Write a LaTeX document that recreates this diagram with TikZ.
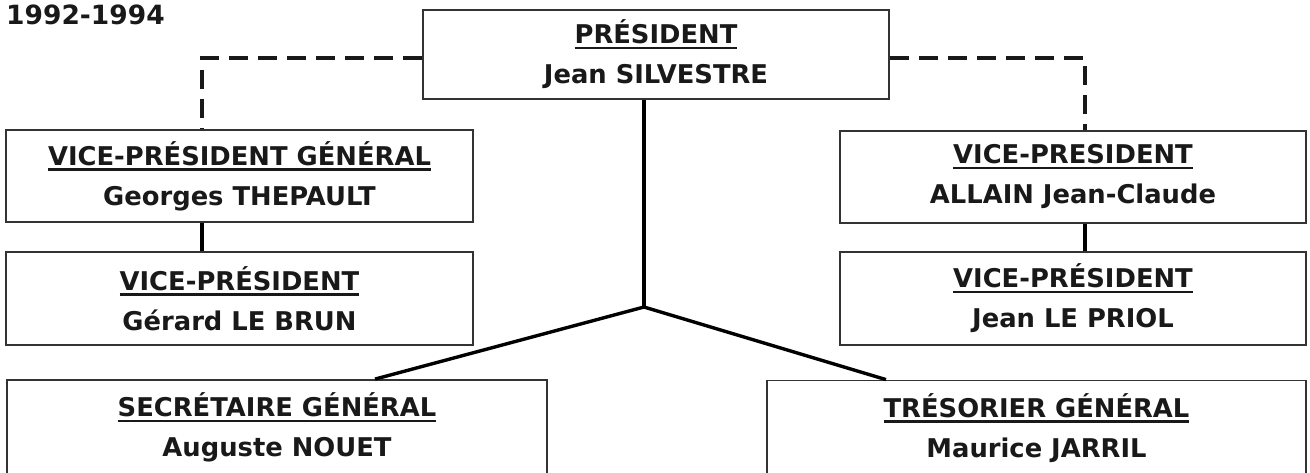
\documentclass[tikz,border=0pt]{standalone}
\usepackage{fontspec}
\setmainfont{DejaVu Sans}
\usepackage{tikz}

\newcommand{\souligne}[1]{\leavevmode\vtop{\hbox{#1}\kern2.5pt\hrule height 2.6pt}}

\begin{document}
\begin{tikzpicture}[x=1pt,y=-1pt,shorten >=0pt,-]
            \tikzstyle{poste}=[rectangle,draw=black!80,line width=1.8pt,fill=white,minimum width=467pt,minimum height=92pt,inner sep=0pt,align=center,text=black!90,font=\bfseries\fontsize{25.8}{40}\selectfont]
            \tikzstyle{lien}=[line width=3.4pt,black]
            \tikzstyle{pointille}=[line width=3.8pt,black!90,dash pattern=on 19pt off 10pt]

                \useasboundingbox (0,0) rectangle (1310,472);

                \node[anchor=north west,inner sep=0pt,text=black!90,font=\bfseries\fontsize{26.5}{30}\selectfont] (annee) at (6,5) {1992-1994};

                \node[poste,minimum width=466pt,minimum height=89pt] (P) at (656,54.5) {\souligne{PRÉSIDENT}\\Jean SILVESTRE};
                \node[poste] (VG) at (239.5,176) {\souligne{VICE-PRÉSIDENT GÉNÉRAL}\\Georges THEPAULT};
                \node[poste,minimum height=93pt] (VB) at (239.5,298.5) {\souligne{VICE-PRÉSIDENT}\\Gérard LE BRUN};
                \node[poste,minimum width=466pt] (VA) at (1073,177) {\souligne{VICE-PRESIDENT}\\ALLAIN Jean-Claude};
                \node[poste,minimum width=466pt,minimum height=93pt] (VL) at (1073,298.5) {\souligne{VICE-PRÉSIDENT}\\Jean LE PRIOL};
                \node[poste,minimum width=540pt,minimum height=95pt] (SG) at (277,427.5) {\souligne{SECRÉTAIRE GÉNÉRAL}\\Auguste NOUET};
                \node[poste,minimum width=539pt,minimum height=95pt] (TG) at (1036.5,428) {\souligne{TRÉSORIER GÉNÉRAL}\\Maurice JARRIL};

                \coordinate (G) at (202,58);
                \coordinate (D) at (1085,58);
                \coordinate (J) at (644,307);
                \coordinate (JS) at (375,380);
                \coordinate (JT) at (886,381);

                \draw[pointille] (P.west |- G) -- (G) -- (G |- VG.north);
                \draw[pointille] (P.east |- D) -- (D) -- (D |- VA.north);

                \foreach \x/\haut/\bas in {G/VG/VB, D/VA/VL}
                    \draw[lien] (\x |- \haut.south) -- (\x |- \bas.north);

                \draw[lien] (J |- P.south) -- (J);
                \foreach \fin/\bas in {JS/SG, JT/TG}
                    \draw[lien] (J) -- (\fin |- \bas.north);
        \end{tikzpicture}
\end{document}
